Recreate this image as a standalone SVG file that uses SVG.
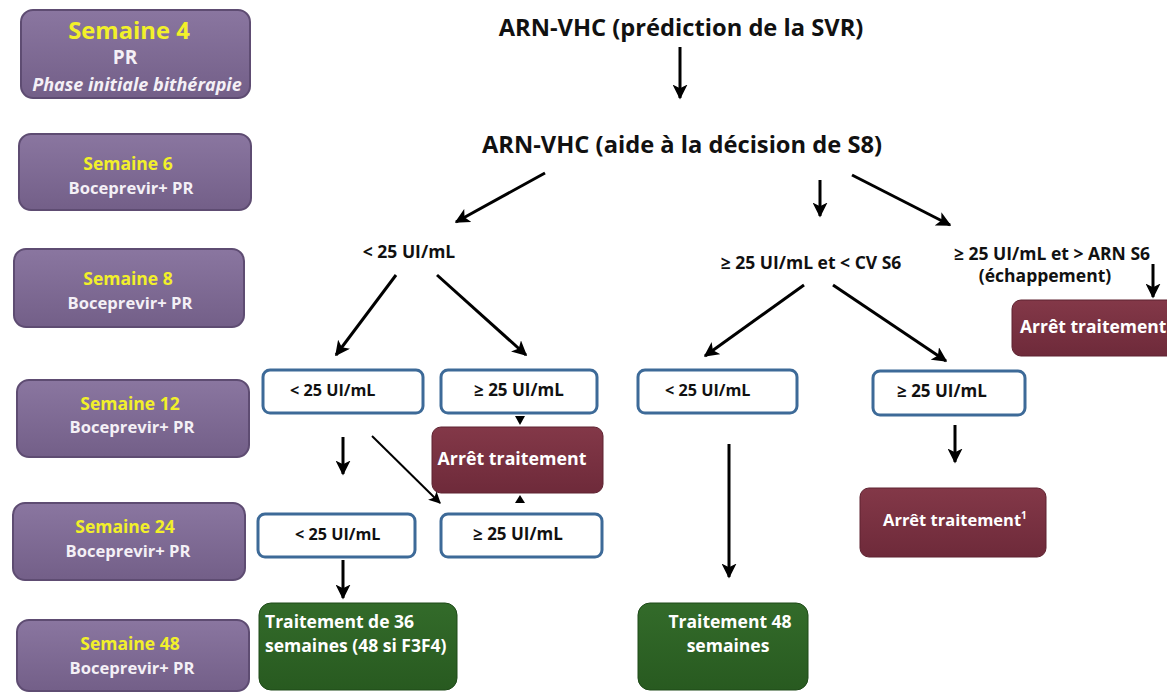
<svg xmlns="http://www.w3.org/2000/svg" width="1167" height="694" viewBox="0 0 1167 694">
<defs>
<linearGradient id="gp" x1="0" y1="0" x2="0" y2="1"><stop offset="0" stop-color="#8a76a0"/><stop offset="1" stop-color="#735f88"/></linearGradient>
<linearGradient id="gr" x1="0" y1="0" x2="0" y2="1"><stop offset="0" stop-color="#833848"/><stop offset="1" stop-color="#6e2a3a"/></linearGradient>
<linearGradient id="gg" x1="0" y1="0" x2="0" y2="1"><stop offset="0" stop-color="#336b2a"/><stop offset="1" stop-color="#285a20"/></linearGradient>
<marker id="ah" viewBox="0 0 10 10" refX="9" refY="5" markerWidth="15" markerHeight="15" markerUnits="userSpaceOnUse" orient="auto"><path d="M0,0 L10,5 L0,10 L2.5,5 z" fill="#000"/></marker>
<marker id="ahs" viewBox="0 0 10 10" refX="9" refY="5" markerWidth="12" markerHeight="12" markerUnits="userSpaceOnUse" orient="auto"><path d="M0,0 L10,5 L0,10 L2.5,5 z" fill="#000"/></marker>
</defs>
<style>
text{font-family:"Open Sans","Liberation Sans",sans-serif;font-weight:bold;}
.wk{fill:url(#gp);stroke:#5e4c72;stroke-width:2;}
.yl{fill:#f2f02a;font-size:17.5px;text-anchor:middle;}
.wt{fill:#f4f0f6;font-size:16.6px;text-anchor:middle;}
.bx{fill:#fff;stroke:#3d6a98;stroke-width:3;}
.bt{fill:#111;font-size:17px;}
.lt_{fill:#111;}
.rd{fill:url(#gr);stroke:#5e2230;stroke-width:1;}
.gn{fill:url(#gg);stroke:#1e4a18;stroke-width:1;}
.lt{fill:#fff;font-size:17.5px;}
.hd{fill:#111;font-size:23.7px;text-anchor:middle;}
.lb{fill:#111;font-size:17.5px;text-anchor:middle;}
.c{stroke:#000;stroke-width:3;fill:none;marker-end:url(#ah);}
.cs{stroke:#000;stroke-width:2;fill:none;marker-end:url(#ahs);}
</style>

<g id="weeks">
<g id="s4"><rect class="wk" x="21" y="10" width="229" height="88" rx="12"/>
<text class="yl" x="129" y="39" style="font-size:23.8px">Semaine 4</text>
<text class="wt" x="125" y="64" style="font-size:19px">PR</text>
<text class="wt" x="137" y="91" style="font-size:18px;font-style:italic">Phase initiale bithérapie</text></g>
<g id="s6"><rect class="wk" x="19" y="134" width="232" height="76" rx="12"/>
<text class="yl" x="128" y="170">Semaine 6</text>
<text class="wt" x="131" y="194">Boceprevir+ PR</text></g>
<g id="s8"><rect class="wk" x="14" y="249" width="230" height="78" rx="12"/>
<text class="yl" x="128" y="285">Semaine 8</text>
<text class="wt" x="130" y="309">Boceprevir+ PR</text></g>
<g id="s12"><rect class="wk" x="17" y="380" width="232" height="77" rx="12"/>
<text class="yl" x="130" y="410">Semaine 12</text>
<text class="wt" x="132" y="433">Boceprevir+ PR</text></g>
<g id="s24"><rect class="wk" x="13" y="503" width="232" height="77" rx="12"/>
<text class="yl" x="125" y="533">Semaine 24</text>
<text class="wt" x="128" y="557">Boceprevir+ PR</text></g>
<g id="s48"><rect class="wk" x="17" y="620" width="232" height="71" rx="12"/>
<text class="yl" x="130" y="650">Semaine 48</text>
<text class="wt" x="132" y="674">Boceprevir+ PR</text></g>
</g>

<g id="h1"><text class="hd" x="681" y="36">ARN-VHC (prédiction de la SVR)</text></g>
<g id="h2"><text class="hd" x="682" y="153">ARN-VHC (aide à la décision de S8)</text></g>
<g id="l1"><text class="lb" x="409" y="258">&lt; 25 UI/mL</text></g>
<g id="l2"><text class="lb" x="811" y="269">≥ 25 UI/mL et &lt; CV S6</text></g>
<g id="l3"><text class="lb" x="1052" y="260">≥ 25 UI/mL et &gt; ARN S6</text><text class="lb" x="1045" y="282">(échappement)</text></g>

<g id="b12a"><rect class="bx" x="263" y="370" width="160" height="43" rx="7"/><text class="bt" x="290" y="396" style="font-size:16.2px">&lt; 25 UI/mL</text></g>
<g id="b12b"><rect class="bx" x="441" y="370" width="156" height="43" rx="7"/><text class="bt" x="474" y="396">≥ 25 UI/mL</text></g>
<g id="b12c"><rect class="bx" x="638" y="370" width="159" height="43" rx="7"/><text class="bt" x="665" y="396" style="font-size:16.2px">&lt; 25 UI/mL</text></g>
<g id="b12d"><rect class="bx" x="873" y="371" width="152" height="44" rx="7"/><text class="bt" x="897" y="397">≥ 25 UI/mL</text></g>
<g id="b24a"><rect class="bx" x="258" y="514" width="157" height="43" rx="7"/><text class="bt" x="295" y="540" style="font-size:16.2px">&lt; 25 UI/mL</text></g>
<g id="b24b"><rect class="bx" x="441" y="514" width="161" height="43" rx="7"/><text class="bt" x="473" y="540">≥ 25 UI/mL</text></g>

<g id="stop1"><rect class="rd" x="432" y="427" width="171" height="66" rx="9"/><text class="lt" x="512" y="465" text-anchor="middle" style="font-size:17.8px">Arrêt traitement</text></g>
<g id="stop2"><rect class="rd" x="1012" y="300" width="170" height="56" rx="9"/><text class="lt" x="1020" y="333">Arrêt traitement</text></g>
<g id="stop3"><rect class="rd" x="860" y="488" width="186" height="69" rx="9"/><text class="lt" x="883" y="526" style="font-size:16.5px">Arrêt traitement<tspan dy="-7" style="font-size:10px">1</tspan></text></g>

<g id="t36"><rect class="gn" x="259" y="603" width="198" height="87" rx="12"/><text class="lt" x="265" y="628">Traitement de 36</text><text class="lt" x="265" y="652">semaines (48 si F3F4)</text></g>
<g id="t48"><rect class="gn" x="638" y="603" width="170" height="87" rx="12"/><text class="lt" x="730" y="628" text-anchor="middle">Traitement 48</text><text class="lt" x="728" y="652" text-anchor="middle">semaines</text></g>

<g id="connectors">
<line class="c" x1="680" y1="47" x2="680" y2="98"/>
<line class="c" x1="545" y1="173" x2="456" y2="222"/>
<line class="c" x1="820" y1="180" x2="820" y2="216"/>
<line class="c" x1="852" y1="175" x2="950" y2="225"/>
<line class="c" x1="396" y1="275" x2="336" y2="355"/>
<line class="c" x1="437" y1="275" x2="526" y2="355"/>
<line class="c" x1="804" y1="285" x2="705" y2="356"/>
<line class="c" x1="833" y1="285" x2="946" y2="361"/>
<line class="c" x1="1153" y1="264" x2="1153" y2="297"/>
<line class="c" x1="343" y1="437" x2="343" y2="474"/>
<line class="cs" x1="372" y1="436" x2="440" y2="503"/>
<path d="M515,416 L525,416 L520,425 z" fill="#000"/>
<path d="M515,503 L525,503 L520,495 z" fill="#000"/>
<line class="c" x1="343" y1="560" x2="343" y2="598"/>
<line class="c" x1="729" y1="444" x2="729" y2="577"/>
<line class="c" x1="955" y1="425" x2="955" y2="462"/>
</g>
</svg>
